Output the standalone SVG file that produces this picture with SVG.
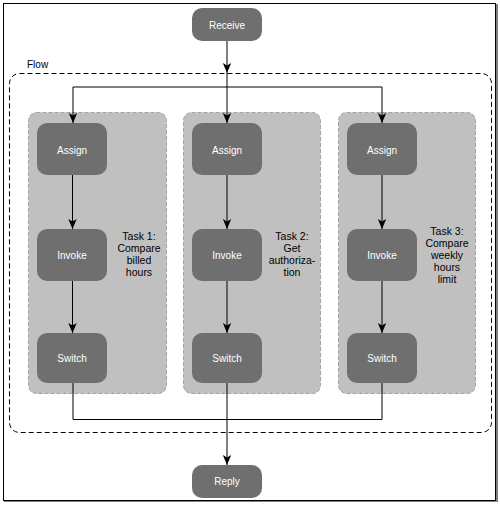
<svg xmlns="http://www.w3.org/2000/svg" width="500" height="506" viewBox="0 0 500 506">
<defs>
<style>
.node rect{fill:#6f6f6f;stroke:none}
.node text{fill:#ffffff;font-family:"Liberation Sans",Arial,sans-serif;font-size:10px;text-anchor:middle}
.grp{fill:#c0c0c0;stroke:#a3a3a3;stroke-dasharray:4 2;stroke-width:1}
.lbl{fill:#000;font-family:"Liberation Sans",Arial,sans-serif;font-size:10.5px;text-anchor:middle}
.edge{fill:none;stroke:#000;stroke-width:1}
</style>
<marker id="arr" markerWidth="10" markerHeight="10" viewBox="0 0 10 10" refX="10" refY="5" orient="auto" markerUnits="userSpaceOnUse">
<path d="M0,0.8 L10,5 L0,9.2 L2.6,5 Z" fill="#000"/>
</marker>
</defs>
<rect x="0" y="0" width="500" height="506" fill="#ffffff"/>
<rect x="4" y="4" width="494" height="498" fill="#808080"/>
<rect x="3.5" y="3.5" width="492" height="497" fill="#ffffff" stroke="#000" stroke-width="1"/>

<g id="flow">
<rect x="9.5" y="73.5" width="482" height="359" rx="10" fill="none" stroke="#000" stroke-dasharray="5 3"/>
<text x="27" y="68" style="fill:#000;font-family:'Liberation Sans',Arial,sans-serif;font-size:10px">Flow</text>
</g>

<g id="task1">
<rect class="grp" x="28.5" y="112.5" width="138" height="281" rx="8"/>
<text class="lbl" x="139" y="240">Task 1:</text>
<text class="lbl" x="139" y="252">Compare</text>
<text class="lbl" x="139" y="264">billed</text>
<text class="lbl" x="139" y="276">hours</text>
</g>
<g id="task2">
<rect class="grp" x="183.5" y="112.5" width="137" height="281" rx="8"/>
<text class="lbl" x="292" y="240">Task 2:</text>
<text class="lbl" x="292" y="252">Get</text>
<text class="lbl" x="292" y="264">authoriza-</text>
<text class="lbl" x="292" y="276">tion</text>
</g>
<g id="task3">
<rect class="grp" x="338.5" y="112.5" width="137" height="281" rx="8"/>
<text class="lbl" x="447" y="235">Task 3:</text>
<text class="lbl" x="447" y="247">Compare</text>
<text class="lbl" x="447" y="259">weekly</text>
<text class="lbl" x="447" y="271">hours</text>
<text class="lbl" x="447" y="283">limit</text>
</g>

<g id="connectors">
<path class="edge" d="M227,41 V73" marker-end="url(#arr)"/>
<path class="edge" d="M227,73 V123" marker-end="url(#arr)"/>
<path class="edge" d="M227,87 H73 V123" marker-end="url(#arr)"/>
<path class="edge" d="M227,87 H382 V123" marker-end="url(#arr)"/>
<path class="edge" d="M72.5,175 V229" marker-end="url(#arr)"/>
<path class="edge" d="M227,175 V229" marker-end="url(#arr)"/>
<path class="edge" d="M382,175 V229" marker-end="url(#arr)"/>
<path class="edge" d="M72.5,281 V333" marker-end="url(#arr)"/>
<path class="edge" d="M227,281 V333" marker-end="url(#arr)"/>
<path class="edge" d="M382,281 V333" marker-end="url(#arr)"/>
<path class="edge" d="M73,383 V419.5 H382 V383"/>
<path class="edge" d="M227,383 V465" marker-end="url(#arr)"/>
</g>

<g id="receive" class="node"><rect x="192" y="8" width="70" height="33" rx="10"/><text x="227" y="28.5">Receive</text></g>
<g id="assign1" class="node"><rect x="37" y="123" width="70" height="52" rx="10"/><text x="72" y="153.5">Assign</text></g>
<g id="assign2" class="node"><rect x="192" y="123" width="70" height="52" rx="10"/><text x="227" y="153.5">Assign</text></g>
<g id="assign3" class="node"><rect x="347" y="123" width="70" height="52" rx="10"/><text x="382" y="153.5">Assign</text></g>
<g id="invoke1" class="node"><rect x="37" y="229" width="70" height="52" rx="10"/><text x="72" y="258.5">Invoke</text></g>
<g id="invoke2" class="node"><rect x="192" y="229" width="70" height="52" rx="10"/><text x="227" y="258.5">Invoke</text></g>
<g id="invoke3" class="node"><rect x="347" y="229" width="70" height="52" rx="10"/><text x="382" y="258.5">Invoke</text></g>
<g id="switch1" class="node"><rect x="37" y="333" width="70" height="50" rx="10"/><text x="72" y="362">Switch</text></g>
<g id="switch2" class="node"><rect x="192" y="333" width="70" height="50" rx="10"/><text x="227" y="362">Switch</text></g>
<g id="switch3" class="node"><rect x="347" y="333" width="70" height="50" rx="10"/><text x="382" y="362">Switch</text></g>
<g id="reply" class="node"><rect x="192" y="465" width="70" height="33" rx="10"/><text x="227" y="485">Reply</text></g>
</svg>
